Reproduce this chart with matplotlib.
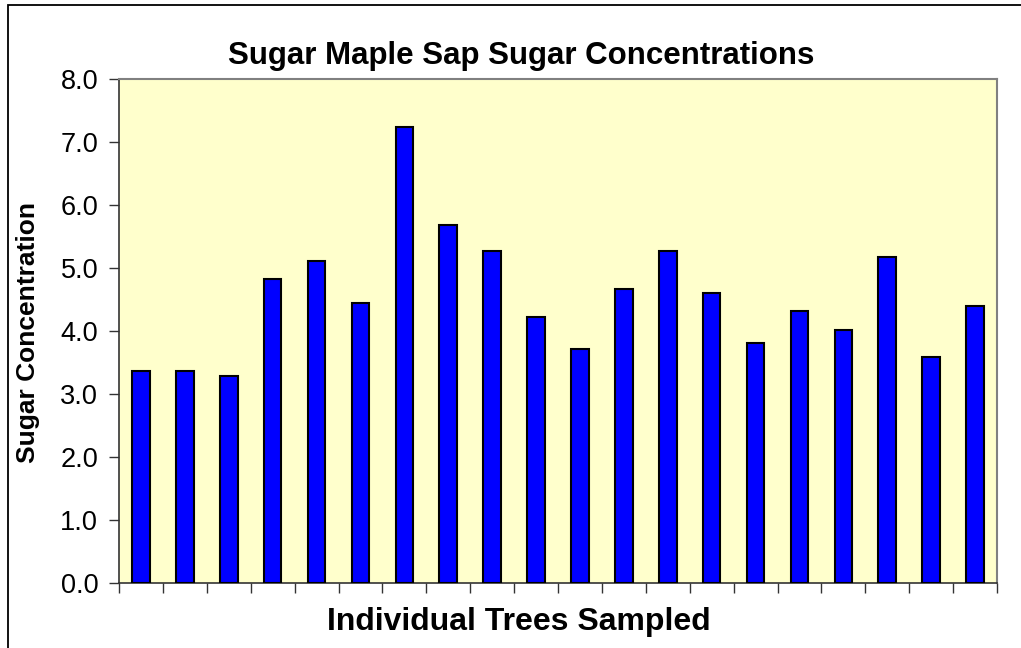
import numpy as np
import matplotlib
matplotlib.use("Agg")
import matplotlib.pyplot as plt
from matplotlib.patches import Rectangle

plt.rcParams['font.family'] = ['Liberation Sans', 'DejaVu Sans']

# sugar concentration read from each sampled tree
trees = np.arange(1, 21)
sugar = [3.37, 3.37, 3.28, 4.83, 5.11, 4.45, 7.24, 5.68, 5.27, 4.22,
         3.72, 4.67, 5.27, 4.61, 3.81, 4.32, 4.01, 5.18, 3.59, 4.39]
y_ticks = [0, 1, 2, 3, 4, 5, 6, 7, 8]

fig = plt.figure(figsize=(10.21, 6.48), dpi=100)
fig.patch.set_facecolor('white')

# chart area border (only top and left visible in the reference)
fig.patches.append(Rectangle((8 / 1021, -0.1), 1.2, 1.1 - 5 / 648,
                             transform=fig.transFigure, fill=False,
                             edgecolor='#000000', linewidth=1.3))

ax = fig.add_axes([119 / 1021, 1 - 583 / 648, (997 - 119) / 1021, (583 - 79) / 648])
ax.set_facecolor('#FFFFCC')

x = np.arange(len(sugar))
ax.bar(x, sugar, width=0.4, color='#0000FF', edgecolor='black', linewidth=1.5, zorder=3)

ax.set_xlim(-0.5, len(sugar) - 0.5)
ax.set_ylim(0, 8)
ax.set_yticks(y_ticks)
ax.set_yticklabels(['%.1f' % v for v in y_ticks], fontsize=19.5)
ax.set_xticks(np.arange(-0.5, len(sugar)))
ax.set_xticklabels([])
ax.tick_params(axis='both', direction='out', length=7, width=1, colors='#333333')
ax.tick_params(axis='y', labelcolor='black', pad=8)

for side in ['top', 'right']:
    ax.spines[side].set_color('#808080')
    ax.spines[side].set_linewidth(1.5)
for side in ['left', 'bottom']:
    ax.spines[side].set_color('#333333')
    ax.spines[side].set_linewidth(1.2)

fig.text(521 / 1021, 1 - 64 / 648, 'Sugar Maple Sap Sugar Concentrations',
         ha='center', va='baseline', fontsize=22.5, fontweight='bold')
fig.text(519 / 1021, 1 - 630 / 648, 'Individual Trees Sampled',
         ha='center', va='baseline', fontsize=23, fontweight='bold')
fig.text(28 / 1021, 1 - 333 / 648, 'Sugar Concentration', rotation=90,
         ha='center', va='center', fontsize=19, fontweight='bold')

fig.savefig('out.png', dpi=100, facecolor='white')
